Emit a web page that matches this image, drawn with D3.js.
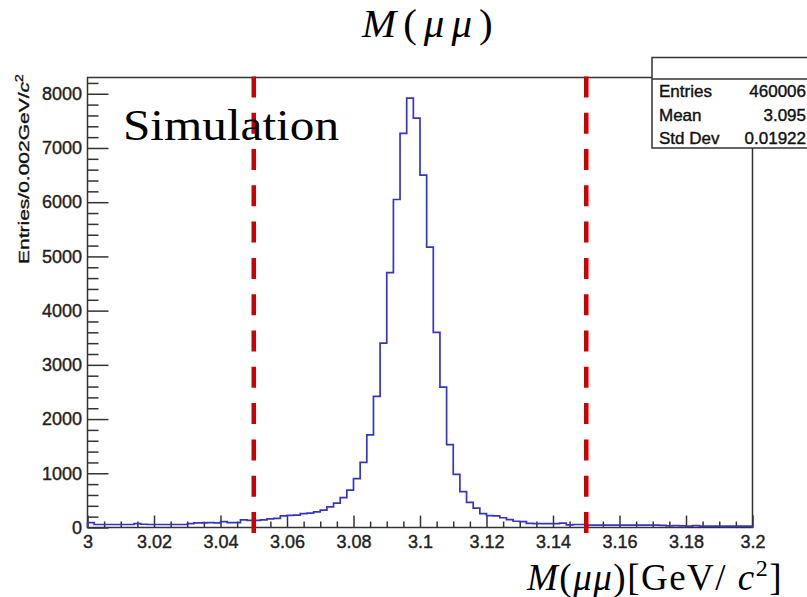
<!DOCTYPE html>
<html>
<head>
<meta charset="utf-8">
<script src="https://cdn.jsdelivr.net/npm/d3@7"></script>
<style>
  html, body { margin: 0; padding: 0; background: #fff; }
  svg { display: block; }
</style>
</head>
<body>
<svg id="chart" width="807" height="597"></svg>
<script>
// ---------------- data ----------------
const histMin = 3.0;
const histMax = 3.2;
const binWidth = 0.002;
const counts = [
  90, 55, 55, 55, 55, 55, 55, 70, 60, 55,
  55, 55, 55, 55, 55, 70, 85, 85, 90, 85,
  110, 90, 90, 140, 130, 130, 140, 160, 170, 215,
  225, 230, 255, 265, 290, 320, 380, 450, 550, 690,
  900, 1200, 1710, 2420, 3400, 4700, 6050, 7270, 7920, 7550,
  6500, 5170, 3600, 2590, 1530, 980, 660, 465, 356, 255,
  220, 215, 180, 145, 115, 110, 75, 70, 70, 70,
  70, 80, 50, 55, 55, 45, 45, 45, 45, 45,
  45, 45, 45, 45, 45, 45, 40, 30, 35, 30,
  25, 35, 25, 25, 25, 25, 25, 25, 25, 25
];
const xTickValues = [3.0, 3.02, 3.04, 3.06, 3.08, 3.1, 3.12, 3.14, 3.16, 3.18, 3.2];
const xTickLabels = ["3", "3.02", "3.04", "3.06", "3.08", "3.1", "3.12", "3.14", "3.16", "3.18", "3.2"];
const yTickValues = [0, 1000, 2000, 3000, 4000, 5000, 6000, 7000, 8000];
const yTickLabels = ["0", "1000", "2000", "3000", "4000", "5000", "6000", "7000", "8000"];
const cutValues = [3.05, 3.15];
const statNames = ["Entries", "Mean", "Std Dev"];
const statValues = ["460006", "3.095", "0.01922"];
const titleText = "Simulation";

// ---------------- layout ----------------
(function () {
const svg = d3.select("#chart");
const pL = 87.5, pR = 752.5, pT = 77.5, pB = 527.5;
const x = d3.scaleLinear().domain([histMin, histMax]).range([pL, pR]);
const y = d3.scaleLinear().domain([0, 8300]).range([pB, pT]);
const axisColor = "#333";
const sansFont = "'Liberation Sans', Arial, Helvetica, sans-serif";
const serifFont = "'Liberation Serif', 'Times New Roman', serif";

// frame
svg.append("rect")
  .attr("x", pL).attr("y", pT)
  .attr("width", pR - pL).attr("height", pB - pT)
  .attr("fill", "none").attr("stroke", axisColor).attr("stroke-width", 1.5);

// minor ticks
const xMinor = d3.range(0, 41).map(i => histMin + i * 0.005).filter(v => !xTickValues.some(t => Math.abs(t - v) < 1e-9));
const yMinor = d3.range(0, 42).map(i => i * 200).filter(v => v % 1000 !== 0 && v <= 8300);

const xAxisMinor = d3.axisBottom(x).tickValues(xMinor).tickSize(-6).tickFormat("");
const xAxisMajor = d3.axisBottom(x).tickValues(xTickValues).tickSize(-12).tickPadding(8)
  .tickFormat((d, i) => xTickLabels[i]);
const yAxisMinor = d3.axisLeft(y).tickValues(yMinor).tickSize(-11).tickFormat("");
const yAxisMajor = d3.axisLeft(y).tickValues(yTickValues).tickSize(-21).tickPadding(5.5)
  .tickFormat((d, i) => yTickLabels[i]);

function styleAxis(g) {
  g.select(".domain").remove();
  g.selectAll(".tick line").attr("stroke", axisColor).attr("stroke-width", 1.5);
  g.selectAll(".tick text").attr("fill", "#222").attr("font-family", sansFont).attr("font-size", 18)
    .attr("stroke", "#222").attr("stroke-width", 0.4);
}
svg.append("g").attr("transform", `translate(0,${pB})`).call(xAxisMinor).call(styleAxis);
svg.append("g").attr("transform", `translate(0,${pB})`).call(xAxisMajor).call(styleAxis);
svg.append("g").attr("transform", `translate(${pL},0)`).call(yAxisMinor).call(styleAxis);
svg.append("g").attr("transform", `translate(${pL},0)`).call(yAxisMajor).call(styleAxis);

// histogram outline
const pts = [[x(histMin), y(0)]];
counts.forEach((c, i) => {
  const x0 = x(histMin + i * binWidth), x1 = x(histMin + (i + 1) * binWidth);
  pts.push([x0, y(c)]);
  pts.push([x1, y(c)]);
});
pts.push([x(histMax), y(0)]);
svg.append("path")
  .attr("d", d3.line()(pts))
  .attr("fill", "none")
  .attr("stroke", "#3434c6")
  .attr("stroke-width", 1.7);

// dashed cut lines
svg.selectAll("line.cut").data(cutValues).enter().append("line")
  .attr("class", "cut")
  .attr("x1", d => x(d)).attr("x2", d => x(d))
  .attr("y1", 533).attr("y2", 76)
  .attr("stroke", "#cc0000").attr("stroke-width", 4.5)
  .attr("stroke-dasharray", "21,15.3");

// stats box
svg.append("rect")
  .attr("x", 652).attr("y", 57.5).attr("width", 200).attr("height", 90.5)
  .attr("fill", "#fff").attr("stroke", axisColor).attr("stroke-width", 1.5);
svg.append("line")
  .attr("x1", 652).attr("x2", 807).attr("y1", 79).attr("y2", 79)
  .attr("stroke", axisColor).attr("stroke-width", 1.5);
const statBase = [97, 121, 143.5];
statNames.forEach((n, i) => {
  svg.append("text").attr("x", 659).attr("y", statBase[i])
    .attr("font-family", sansFont).attr("font-size", 17).attr("fill", "#111")
    .attr("stroke", "#111").attr("stroke-width", 0.4).text(n);
  svg.append("text").attr("x", 806).attr("y", statBase[i]).attr("text-anchor", "end")
    .attr("font-family", sansFont).attr("font-size", 17).attr("fill", "#111")
    .attr("stroke", "#111").attr("stroke-width", 0.4).text(statValues[i]);
});

// "Simulation"
svg.append("text").attr("x", 123).attr("y", 139.5)
  .attr("font-family", serifFont).attr("font-size", 44)
  .attr("textLength", 216).attr("lengthAdjust", "spacingAndGlyphs")
  .attr("fill", "#000").text(titleText);

// top title M(μμ)
const title = svg.append("text").attr("x", 362).attr("y", 37)
  .attr("font-family", serifFont).attr("font-size", 41).attr("fill", "#000")
  .attr("letter-spacing", 7);
title.append("tspan").attr("font-style", "italic").text("M");
title.append("tspan").text("(");
title.append("tspan").attr("font-style", "italic").text("μμ");
title.append("tspan").text(")");

// x axis title
const xt = svg.append("text").attr("x", 527).attr("y", 590)
  .attr("font-family", serifFont).attr("font-size", 37).attr("fill", "#000")
  .attr("letter-spacing", 1.5);
xt.append("tspan").attr("font-style", "italic").text("M");
xt.append("tspan").text("(");
xt.append("tspan").attr("font-style", "italic").text("μμ");
xt.append("tspan").text(")[GeV/ ");
xt.append("tspan").attr("font-style", "italic").text("c");
xt.append("tspan").attr("font-size", 24).attr("dy", -14).text("2");
xt.append("tspan").attr("dy", 14).text("]");

// y axis title
const yt = svg.append("text")
  .attr("transform", "translate(29,264) rotate(-90) scale(1.4,1)")
  .attr("font-family", sansFont).attr("font-size", 15).attr("fill", "#111")
  .attr("stroke", "#111").attr("stroke-width", 0.35);
yt.append("tspan").text("Entries/0.002GeV/");
yt.append("tspan").attr("font-style", "italic").text("c");
yt.append("tspan").attr("font-size", 10).attr("dy", -6).text("2");
})();
</script>
</body>
</html>
